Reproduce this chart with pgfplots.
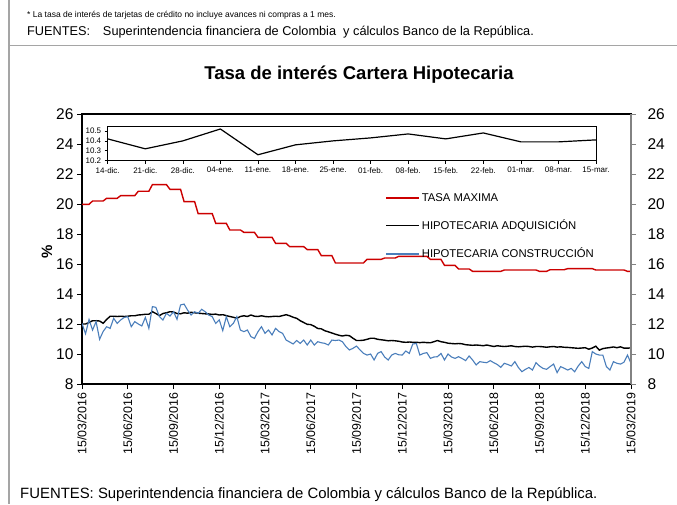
\documentclass[border=0pt]{standalone}
\usepackage{fontspec}
\setmainfont{Liberation Sans}
\usepackage{pgfplots}
\usepackage{pgfplotstable}
\pgfplotsset{compat=1.18}
\definecolor{tasa}{RGB}{204,0,0}
\definecolor{constr}{RGB}{74,126,187}
\definecolor{frame}{RGB}{165,165,165}
\definecolor{rightax}{RGB}{130,130,130}

% semanas desde 15/03/2016: tasa maxima, adquisicion, construccion
\pgfplotstableread{
w max adq con
0 19.98 12.00 12.04
1 19.98 12.00 11.35
2 19.98 12.10 12.30
3 20.20 12.22 11.60
4 20.20 12.22 12.16
5 20.20 12.20 10.98
6 20.20 12.05 11.50
7 20.38 12.30 11.82
8 20.38 12.52 11.71
9 20.38 12.52 12.38
10 20.38 12.50 12.04
11 20.56 12.52 12.27
12 20.56 12.50 12.44
13 20.56 12.52 12.49
14 20.56 12.55 11.82
15 20.56 12.55 12.16
16 20.85 12.60 12.00
17 20.85 12.62 11.87
18 20.85 12.65 12.44
19 20.85 12.65 11.71
20 21.29 12.82 13.16
21 21.29 12.70 13.11
22 21.29 12.56 12.49
23 21.29 12.70 12.27
24 21.29 12.75 12.71
25 20.98 12.82 12.53
26 20.98 12.80 12.82
27 20.98 12.70 12.31
28 20.98 12.68 13.27
29 20.16 12.75 13.33
30 20.16 12.72 12.93
31 20.16 12.78 12.60
32 20.16 12.75 12.82
33 19.36 12.72 12.71
34 19.36 12.70 12.98
35 19.36 12.68 12.82
36 19.36 12.67 12.60
37 19.36 12.64 12.49
38 18.71 12.66 12.04
39 18.71 12.60 12.27
40 18.71 12.62 11.56
41 18.71 12.56 12.49
42 18.27 12.50 11.82
43 18.27 12.45 12.04
44 18.27 12.38 12.49
45 18.27 12.50 11.60
46 18.11 12.55 11.49
47 18.11 12.50 11.60
48 18.11 12.60 11.16
49 18.11 12.52 11.04
50 17.78 12.50 11.49
51 17.78 12.55 11.82
52 17.78 12.50 11.38
53 17.78 12.48 11.60
54 17.78 12.50 11.27
55 17.38 12.52 11.71
56 17.38 12.50 11.49
57 17.38 12.56 11.38
58 17.38 12.62 10.93
59 17.16 12.55 10.80
60 17.16 12.45 10.67
61 17.16 12.38 10.90
62 17.16 12.22 10.71
63 17.16 12.10 10.93
64 16.96 11.98 10.60
65 16.96 11.96 10.93
66 16.96 11.85 10.60
67 16.96 11.70 10.82
68 16.56 11.68 10.75
69 16.56 11.55 10.71
70 16.56 11.48 10.60
71 16.56 11.40 10.93
72 16.07 11.32 10.90
73 16.07 11.25 10.93
74 16.07 11.20 10.82
75 16.07 11.25 10.49
76 16.07 11.22 10.27
77 16.07 11.05 10.38
78 16.07 10.90 10.53
79 16.07 10.90 10.27
80 16.07 10.92 10.04
81 16.31 10.98 9.93
82 16.31 11.05 10.00
83 16.31 11.05 9.60
84 16.31 10.98 10.04
85 16.31 10.95 10.16
86 16.40 10.92 9.80
87 16.40 10.88 9.60
88 16.40 10.90 9.93
89 16.40 10.88 10.04
90 16.51 10.85 9.95
91 16.51 10.80 9.93
92 16.51 10.78 10.20
93 16.51 10.80 10.04
94 16.51 10.78 10.67
95 16.51 10.78 10.70
96 16.51 10.76 9.93
97 16.51 10.78 10.04
98 16.51 10.76 10.09
99 16.31 10.75 9.71
100 16.31 10.82 9.80
101 16.31 10.90 9.82
102 16.31 10.82 10.04
103 15.91 10.78 9.60
104 15.91 10.72 10.00
105 15.91 10.70 9.80
106 15.91 10.68 9.71
107 15.67 10.70 9.82
108 15.67 10.68 9.70
109 15.67 10.62 9.56
110 15.67 10.60 9.87
111 15.51 10.58 9.60
112 15.51 10.60 9.27
113 15.51 10.58 9.49
114 15.51 10.55 9.45
115 15.51 10.60 9.42
116 15.51 10.55 9.56
117 15.51 10.50 9.42
118 15.51 10.55 9.30
119 15.51 10.52 9.11
120 15.60 10.50 9.38
121 15.60 10.52 9.30
122 15.60 10.55 9.20
123 15.60 10.50 9.49
124 15.60 10.48 9.10
125 15.60 10.50 8.82
126 15.60 10.52 8.98
127 15.60 10.50 9.10
128 15.60 10.46 8.93
129 15.60 10.50 9.42
130 15.51 10.50 9.20
131 15.51 10.48 9.04
132 15.51 10.45 8.98
133 15.62 10.48 9.16
134 15.62 10.50 9.33
135 15.62 10.46 8.76
136 15.62 10.48 9.16
137 15.62 10.45 9.05
138 15.69 10.44 8.93
139 15.69 10.42 9.04
140 15.69 10.40 8.82
141 15.69 10.38 9.20
142 15.69 10.40 9.49
143 15.69 10.42 9.16
144 15.69 10.32 9.04
145 15.69 10.40 10.16
146 15.60 10.52 10.00
147 15.60 10.26 9.93
148 15.60 10.36 9.93
149 15.60 10.40 9.16
150 15.60 10.43 8.93
151 15.60 10.47 9.49
152 15.60 10.42 9.38
153 15.60 10.48 9.33
154 15.60 10.39 9.45
155 15.51 10.39 9.93
156 15.51 10.41 9.38
}\hipo

% ultimas 14 semanas, hipotecaria adquisicion
\pgfplotstableread{
k val
0 10.42
1 10.32
2 10.40
3 10.52
4 10.26
5 10.36
6 10.40
7 10.43
8 10.47
9 10.42
10 10.48
11 10.39
12 10.39
13 10.41
}\ultimas

\begin{document}
\begin{tikzpicture}[x=1pt,y=1pt]
\path[use as bounding box] (0pt,0pt) rectangle (677pt,-504pt);
\fill[white] (0pt,0pt) rectangle (677pt,-504pt);
\draw[frame, line width=1.2pt] (9pt,0pt) -- (9pt,-504pt);
\draw[frame, line width=1.5pt] (9pt,-45.5pt) -- (677pt,-45.5pt);

\node[anchor=base west, inner sep=0pt, font=\fontsize{8.5}{10}\selectfont] at (27pt,-17pt) {* La tasa de interés de tarjetas de crédito no incluye avances ni compras a 1 mes.};
\node[anchor=base west, inner sep=0pt, font=\fontsize{12.75}{14}\selectfont] at (27pt,-35pt) {FUENTES:\quad Superintendencia financiera de Colombia\ \ y cálculos Banco de la República.};
\node[anchor=base, inner sep=0pt, font=\bfseries\fontsize{18.5}{21}\selectfont] at (359pt,-79pt) {Tasa de interés Cartera Hipotecaria};
\node[anchor=base west, inner sep=0pt, font=\fontsize{14.9}{16}\selectfont] at (20pt,-498pt) {FUENTES: Superintendencia financiera de Colombia y cálculos Banco de la República.};

\begin{axis}[
  at={(82pt,-384pt)}, anchor=south west,
  scale only axis, width=549pt, height=270pt,
  xmin=0, xmax=156, ymin=8, ymax=26,
  xtick={0,13,...,156},
  xticklabels={15/03/2016,15/06/2016,15/09/2016,15/12/2016,15/03/2017,15/06/2017,15/09/2017,15/12/2017,15/03/2018,15/06/2018,15/09/2018,15/12/2018,15/03/2019},
  ytick={8,10,...,26},
  xtick pos=bottom, ytick pos=left,
  tick align=outside, major tick length=5pt,
  tick style={black, line width=0.8pt},
  axis line style={black, line width=1.2pt},
  /pgf/number format/assume math mode=true,
  x tick label style={rotate=90, anchor=east, font=\fontsize{12.4}{13}\selectfont},
  y tick label style={font=\fontsize{15.5}{16}\selectfont},
  ylabel={\textbf{\%}},
  ylabel style={font=\fontsize{15}{16}\selectfont, at={(axis description cs:-0.064,0.49)}, anchor=center},
  legend style={at={(0.552,0.714)}, anchor=north west, draw=none, fill=none,
    font=\fontsize{11.3}{13}\selectfont, row sep=13pt, inner sep=0pt,
    nodes={inner sep=2pt}},
  legend cell align=left,
  legend image code/.code={\draw[#1, line width=1.6pt] (0pt,0pt) -- (33pt,0pt);},
]
\addplot[tasa, line width=1.4pt] table[x=w, y=max] {\hipo};
\addlegendentry{TASA MAXIMA}
\addplot[black, line width=1.4pt] table[x=w, y=adq] {\hipo};
\addlegendentry{HIPOTECARIA ADQUISICIÓN}
\addplot[constr, line width=1.1pt] table[x=w, y=con] {\hipo};
\addlegendentry{HIPOTECARIA CONSTRUCCIÓN}
\end{axis}

\begin{axis}[
  at={(82pt,-384pt)}, anchor=south west,
  scale only axis, width=549pt, height=270pt,
  xmin=0, xmax=156, ymin=8, ymax=26,
  axis x line=none, axis y line*=right,
  ytick={8,10,...,26},
  tick align=outside, major tick length=5pt,
  tick style={rightax, line width=0.8pt},
  axis line style={rightax, line width=1.2pt},
  /pgf/number format/assume math mode=true,
  y tick label style={font=\fontsize{15.5}{16}\selectfont, xshift=8pt},
]
\end{axis}

\begin{axis}[
  at={(107.7pt,-160.7pt)}, anchor=south west,
  scale only axis, width=488.3pt, height=34.7pt,
  xmin=0, xmax=13, ymin=10.2, ymax=10.55,
  xtick={0,...,13},
  xticklabels={14-dic.,21-dic.,28-dic.,04-ene.,11-ene.,18-ene.,25-ene.,01-feb.,08-feb.,15-feb.,22-feb.,01-mar.,08-mar.,15-mar.},
  ytick={10.2,10.3,10.4,10.5},
  yticklabel style={/pgf/number format/.cd, fixed, fixed zerofill, precision=1},
  xtick pos=bottom, ytick pos=left,
  tick align=outside, major tick length=3pt,
  tick style={black, line width=0.6pt},
  axis line style={black, line width=1pt},
  axis background/.style={fill=white},
  /pgf/number format/assume math mode=true,
  tick label style={font=\fontsize{8}{9}\selectfont},
]
\addplot[black, line width=1.2pt] table[x=k, y=val] {\ultimas};
\end{axis}
\end{tikzpicture}
\end{document}
